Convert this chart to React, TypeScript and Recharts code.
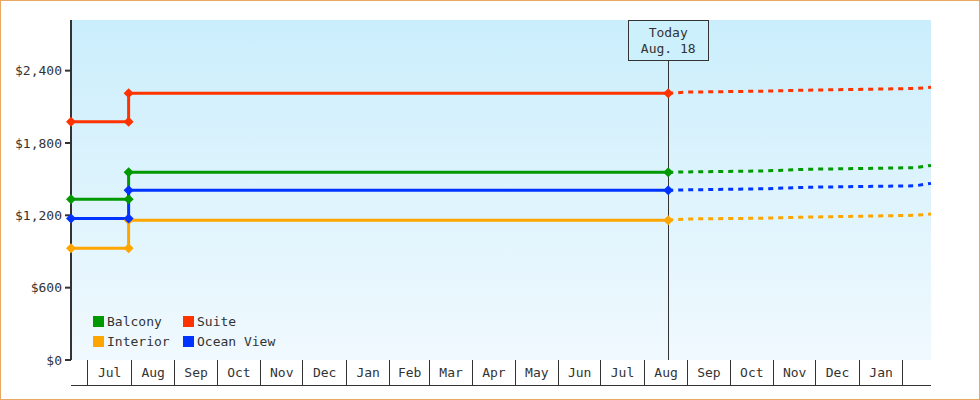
import { CartesianGrid, ComposedChart, Line, ReferenceLine, XAxis, YAxis } from 'recharts';

const font = "'DejaVu Sans Mono', monospace";
const ink = '#333333';

// dates are turned into whole days for the numeric x axis
const toDay = (iso: string) => Date.parse(iso + 'T00:00:00Z') / 86400000;

const rangeStart = '2022-06-19';
const rangeEnd = '2024-02-21';
const today = '2023-08-18';
const todayLines = ['Today', 'Aug. 18'];

const monthLabels = ['Jul', 'Aug', 'Sep', 'Oct', 'Nov', 'Dec', 'Jan', 'Feb', 'Mar', 'Apr', 'May', 'Jun', 'Jul', 'Aug', 'Sep', 'Oct', 'Nov', 'Dec', 'Jan'];
const yTicks = [0, 600, 1200, 1800, 2400];

const historyDates = ['2022-06-19', '2022-07-30', '2022-07-30', '2023-08-18'];
const forecastDates = ['2023-08-18', '2023-09-01', '2023-10-25', '2023-11-25', '2024-02-10', '2024-02-21'];

const balconyHistory = [1333, 1333, 1557, 1557];
const balconyForecast = [1557, 1560, 1568, 1582, 1595, 1614];
const suiteHistory = [1977, 1977, 2213, 2213];
const suiteForecast = [2213, 2222, 2230, 2238, 2252, 2262];
const interiorHistory = [927, 927, 1160, 1160];
const interiorForecast = [1160, 1170, 1176, 1185, 1200, 1211];
const oceanHistory = [1173, 1173, 1408, 1408];
const oceanForecast = [1408, 1411, 1420, 1433, 1445, 1465];

const series = [
  { name: 'Balcony', color: '#009900', history: balconyHistory, forecast: balconyForecast },
  { name: 'Suite', color: '#ff3300', history: suiteHistory, forecast: suiteForecast },
  { name: 'Interior', color: '#ffa500', history: interiorHistory, forecast: interiorForecast },
  { name: 'Ocean View', color: '#0033ff', history: oceanHistory, forecast: oceanForecast },
];

const toPoints = (dates: string[], values: number[]) =>
  values.map((value, i) => ({ day: toDay(dates[i]), value }));

// month boundaries (separators) and mid-month positions (labels)
const monthStarts: number[] = [];
for (let i = 0; i <= monthLabels.length; i++) {
  monthStarts.push(Date.UTC(2022, 6 + i, 1) / 86400000);
}
const monthMids = monthLabels.map((_, i) => (monthStarts[i] + monthStarts[i + 1]) / 2);
const boundarySet = new Set(monthStarts);

const MonthTick = (props: any) => {
  const { x, y, payload } = props;
  if (boundarySet.has(payload.value)) {
    return (
      <line x1={x} x2={x} y1={y} y2={y + 25} stroke={ink} strokeWidth={1} shapeRendering="crispEdges" />
    );
  }
  const idx = monthMids.indexOf(payload.value);
  return (
    <text x={x} y={y + 17} textAnchor="middle" fill={ink} fontSize={13} fontFamily={font}>
      {monthLabels[idx]}
    </text>
  );
};

const Diamond = (props: any) => {
  const { cx, cy, fill } = props;
  if (cx == null || cy == null) return null;
  const r = 5;
  return (
    <polygon
      points={`${cx},${cy - r} ${cx + r},${cy} ${cx},${cy + r} ${cx - r},${cy}`}
      fill={fill}
    />
  );
};

const TodayLabel = (props: any) => {
  const { viewBox } = props;
  if (!viewBox) return null;
  const { x, y } = viewBox;
  return (
    <g>
      <rect
        x={x - 40}
        y={y}
        width={80}
        height={40}
        fill="#ccf0fc"
        stroke={ink}
        strokeWidth={1}
        shapeRendering="crispEdges"
      />
      <text x={x} y={y + 17} textAnchor="middle" fill={ink} fontSize={13} fontFamily={font}>
        {todayLines[0]}
      </text>
      <text x={x} y={y + 33} textAnchor="middle" fill={ink} fontSize={13} fontFamily={font}>
        {todayLines[1]}
      </text>
    </g>
  );
};

const App = () => {
  const domain = [toDay(rangeStart), toDay(rangeEnd)];

  return (
    <div style={{ position: 'relative', width: 980, height: 400, fontFamily: font }}>
      <style>{'body{margin:0}'}</style>
      <ComposedChart width={980} height={400} margin={{ top: 20, right: 49, bottom: 0, left: 0 }}>
        <defs>
          <linearGradient id="plotBg" x1="0" y1="0" x2="0" y2="1">
            <stop offset="0%" stopColor="#cbeefc" />
            <stop offset="100%" stopColor="#f0f9fe" />
          </linearGradient>
        </defs>
        <CartesianGrid horizontal={false} vertical={false} fill="url(#plotBg)" />
        <XAxis
          dataKey="day"
          type="number"
          domain={domain}
          ticks={[...monthStarts, ...monthMids]}
          interval={0}
          axisLine={false}
          tickLine={false}
          tickSize={0}
          tickMargin={0}
          tick={<MonthTick />}
          height={25}
        />
        <XAxis
          xAxisId="frame"
          type="number"
          domain={domain}
          tick={false}
          tickLine={false}
          axisLine={{ stroke: ink, strokeWidth: 1, shapeRendering: 'crispEdges' }}
          height={15}
        />
        <YAxis
          type="number"
          domain={[0, 2820]}
          ticks={yTicks}
          width={71}
          tickSize={6}
          tickMargin={3}
          axisLine={{ stroke: ink, strokeWidth: 2 }}
          tickLine={{ stroke: ink, strokeWidth: 2 }}
          tick={{ fill: ink, fontSize: 13, fontFamily: font }}
          tickFormatter={(v: number) => '$' + v.toLocaleString('en-US')}
        />
        <ReferenceLine
          x={toDay(today)}
          stroke={ink}
          strokeWidth={1}
          shapeRendering="crispEdges"
          label={<TodayLabel />}
        />
        {series.map((s) => (
          <Line
            key={s.name + '-forecast'}
            data={toPoints(forecastDates, s.forecast)}
            dataKey="value"
            type="linear"
            stroke={s.color}
            strokeWidth={3}
            strokeDasharray="5 5"
            dot={false}
            activeDot={false}
            isAnimationActive={false}
          />
        ))}
        {series.map((s) => (
          <Line
            key={s.name + '-history'}
            data={toPoints(historyDates, s.history)}
            dataKey="value"
            type="linear"
            stroke={s.color}
            strokeWidth={3}
            dot={(p: any) => <Diamond key={s.name + p.index} cx={p.cx} cy={p.cy} fill={s.color} />}
            activeDot={false}
            isAnimationActive={false}
          />
        ))}
      </ComposedChart>

      <div
        style={{
          position: 'absolute',
          left: 93,
          top: 313,
          display: 'grid',
          gridTemplateColumns: '90px 110px',
          rowGap: 4,
          fontSize: 13,
          color: ink,
        }}
      >
        {series.map((s) => (
          <div key={s.name} style={{ display: 'flex', alignItems: 'center', height: 16 }}>
            <span style={{ width: 11, height: 11, background: s.color, marginRight: 3 }} />
            <span>{s.name}</span>
          </div>
        ))}
      </div>

      <div
        style={{
          position: 'absolute',
          inset: 0,
          border: '1px solid #e9a862',
          pointerEvents: 'none',
        }}
      />
    </div>
  );
};

export default App;
